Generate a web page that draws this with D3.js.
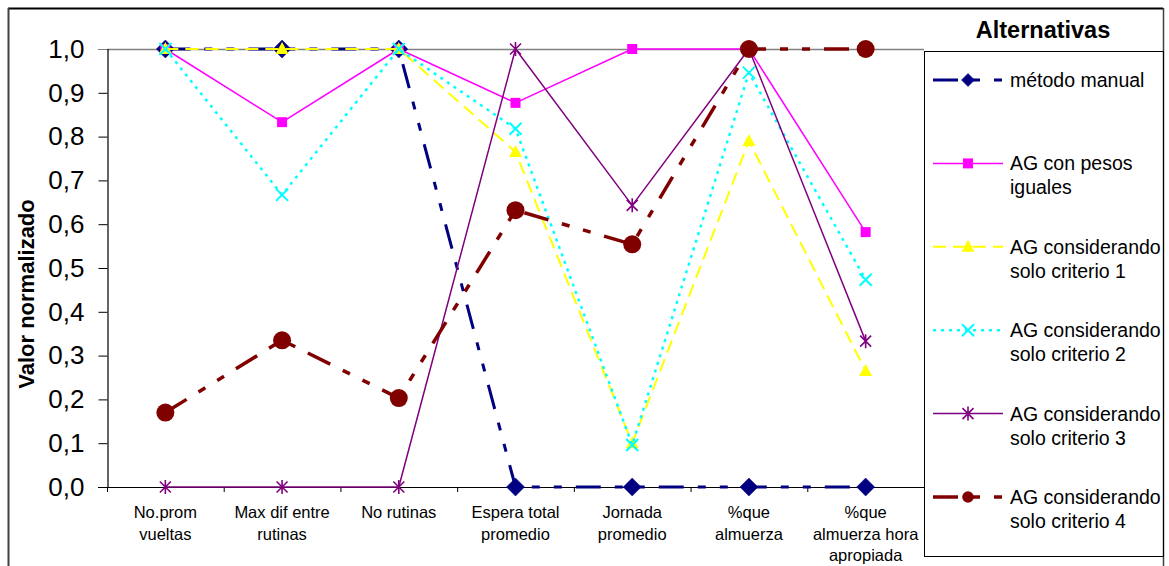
<!DOCTYPE html>
<html>
<head>
<meta charset="utf-8">
<script src="https://cdn.jsdelivr.net/npm/d3@7"></script>
<style>
  html, body { margin: 0; padding: 0; background: #fff; }
  svg { display: block; font-family: "Liberation Sans", Arial, sans-serif; }
</style>
</head>
<body>
<svg id="chart" width="1169" height="566"></svg>
<script>
// ---- Data ----
const categories = ["No.prom vueltas", "Max dif entre rutinas", "No rutinas", "Espera total promedio", "Jornada promedio", "%que almuerza", "%que almuerza hora apropiada"];
const categoryLabelLines = [["No.prom", "vueltas"], ["Max dif entre", "rutinas"], ["No rutinas"], ["Espera total", "promedio"], ["Jornada", "promedio"], ["%que", "almuerza"], ["%que", "almuerza hora", "apropiada"]];
const yTickValues = [0, 0.1, 0.2, 0.3, 0.4, 0.5, 0.6, 0.7, 0.8, 0.9, 1.0];

const seriesNames = ["método manual", "AG con pesos iguales", "AG considerando solo criterio 1", "AG considerando solo criterio 2", "AG considerando solo criterio 3", "AG considerando solo criterio 4"];
const legendLines = [["método manual"], ["AG con pesos", "iguales"], ["AG considerando", "solo criterio 1"], ["AG considerando", "solo criterio 2"], ["AG considerando", "solo criterio 3"], ["AG considerando", "solo criterio 4"]];

const metodoManual   = [1, 1, 1, 0, 0, 0, 0];
const agPesosIguales = [1, 0.833, 1, 0.877, 1, 1, 0.582];
const agCriterio1    = [1, 1, 1, 0.765, 0.1, 0.79, 0.265];
const agCriterio2    = [1, 0.667, 1, 0.818, 0.096, 0.946, 0.473];
const agCriterio3    = [0, 0, 0, 1, 0.643, 1, 0.333];
const agCriterio4    = [0.17, 0.335, 0.203, 0.632, 0.554, 1, 1];

const allSeries = [metodoManual, agPesosIguales, agCriterio1, agCriterio2, agCriterio3, agCriterio4];

// ---- Styles ----
const styles = [
  { color: "#000080", width: 3,   dash: "25,14,8,14,8,14", marker: "diamond" },
  { color: "#FF00FF", width: 1.5, dash: null,              marker: "square" },
  { color: "#FFFF00", width: 2,   dash: "13,7",            marker: "triangle" },
  { color: "#00FFFF", width: 2.5, dash: "3,5",             marker: "x" },
  { color: "#800080", width: 1.5, dash: null,              marker: "star" },
  { color: "#800000", width: 3.5, dash: "25,14,8,14,8,14", marker: "circle" }
];

const svg = d3.select("#chart");
const W = 1169, H = 566;
const plot = { left: 107, right: 924, top: 49, bottom: 487 };

const x = d3.scaleBand().domain(categories).range([plot.left, plot.right]).padding(0);
const y = d3.scaleLinear().domain([0, 1]).range([plot.bottom, plot.top]);
const cx = c => x(c) + x.bandwidth() / 2;

// outer chart border
svg.append("line").attr("x1", 8).attr("x2", 1163).attr("y1", 8.5).attr("y2", 8.5).attr("stroke", "#000").attr("stroke-width", 2);
svg.append("line").attr("x1", 8.5).attr("x2", 8.5).attr("y1", 8).attr("y2", H).attr("stroke", "#404040").attr("stroke-width", 2);
svg.append("line").attr("x1", 1163.5).attr("x2", 1163.5).attr("y1", 8).attr("y2", H).attr("stroke", "#404040").attr("stroke-width", 1.5);

// plot area border (top) in gray
svg.append("line").attr("x1", plot.left).attr("x2", plot.right).attr("y1", y(1) + 0.5).attr("y2", y(1) + 0.5).attr("stroke", "#808080").attr("stroke-width", 1.5);

// Y axis
const yAxis = d3.axisLeft(y).tickValues(yTickValues).tickSize(9).tickPadding(14)
  .tickFormat(d => d.toFixed(1).replace(".", ","));
const gy = svg.append("g").attr("transform", `translate(${plot.left + 0.5},0)`).call(yAxis);
gy.select(".domain").attr("stroke", "#000").attr("stroke-width", 1.2);
gy.selectAll(".tick line").attr("stroke", "#000");
gy.selectAll(".tick text").attr("font-size", 26).attr("fill", "#000").attr("font-family", "Liberation Sans, Arial, sans-serif");
gy.selectAll(".tick").filter(d => d === 1).select("line").attr("stroke", "#808080");

// X axis
const xAxisLine = svg.append("g");
xAxisLine.append("line").attr("x1", plot.left - 9).attr("x2", plot.right).attr("y1", y(0) + 0.5).attr("y2", y(0) + 0.5).attr("stroke", "#000").attr("stroke-width", 1.2);
const boundaries = categories.map(c => x(c)).concat([x(categories[categories.length - 1]) + x.bandwidth()]);
xAxisLine.selectAll("line.xt").data(boundaries).enter().append("line")
  .attr("class", "xt").attr("x1", d => d + 0.5).attr("x2", d => d + 0.5)
  .attr("y1", y(0)).attr("y2", y(0) + 5).attr("stroke", "#000").attr("stroke-width", 1);

categories.forEach((c, i) => {
  const t = svg.append("text").attr("text-anchor", "middle").attr("font-size", 16.5).attr("fill", "#000");
  categoryLabelLines[i].forEach((ln, j) => {
    t.append("tspan").attr("x", cx(c)).attr("y", 518 + j * 21.5).text(ln);
  });
});

// Y axis title
svg.append("text").attr("transform", `translate(34,${(plot.top + plot.bottom) / 2 + 26}) rotate(-90)`)
  .attr("text-anchor", "middle").attr("font-size", 22).attr("font-weight", "bold").attr("fill", "#000")
  .text("Valor normalizado");

// marker drawer
function drawMarker(g, type, color, px, py, small) {
  const m = g.append("path").attr("transform", `translate(${px},${py})`);
  if (type === "diamond") {
    const s = small ? 6.5 : 9;
    m.attr("d", `M0,${-s}L${s},0L0,${s}L${-s},0Z`).attr("fill", color).attr("stroke", color).attr("stroke-width", 0.5);
  } else if (type === "square") {
    m.attr("d", "M-5,-5H5V5H-5Z").attr("fill", color);
  } else if (type === "triangle") {
    m.attr("d", "M0,-7L6.5,5L-6.5,5Z").attr("fill", color);
  } else if (type === "x") {
    m.attr("d", "M-6,-6L6,6M-6,6L6,-6").attr("fill", "none").attr("stroke", color).attr("stroke-width", 2);
  } else if (type === "star") {
    m.attr("d", "M0,-7L0,7M-5.5,-5.5L5.5,5.5M-5.5,5.5L5.5,-5.5").attr("fill", "none").attr("stroke", color).attr("stroke-width", 1.6);
  } else if (type === "circle") {
    const r = small ? 5.8 : 9;
    m.attr("d", d3.symbol().type(d3.symbolCircle).size(Math.PI * r * r)()).attr("fill", color);
  }
}

// series
const line = d3.line().x((d, i) => cx(categories[i])).y(d => y(d));
allSeries.forEach((vals, si) => {
  const st = styles[si];
  const g = svg.append("g");
  g.append("path").datum(vals).attr("d", line).attr("fill", "none")
    .attr("stroke", st.color).attr("stroke-width", st.width)
    .attr("stroke-dasharray", st.dash).attr("stroke-linejoin", "round");
  vals.forEach((v, i) => drawMarker(g, st.marker, st.color, cx(categories[i]), y(v), false));
});

// Legend
svg.append("rect").attr("x", 924.5).attr("y", 51.5).attr("width", 239).attr("height", 505)
  .attr("fill", "none").attr("stroke", "#000").attr("stroke-width", 1);
svg.append("text").attr("x", 1043).attr("y", 38).attr("text-anchor", "middle")
  .attr("font-size", 23.5).attr("font-weight", "bold").attr("fill", "#000").text("Alternativas");

const legendY = d3.scaleLinear().domain([0, 5]).range([80, 497]);
seriesNames.forEach((name, si) => {
  const st = styles[si];
  const ly = legendY(si);
  const g = svg.append("g");
  g.append("line").attr("x1", 933).attr("x2", 1003).attr("y1", ly).attr("y2", ly)
    .attr("stroke", st.color).attr("stroke-width", st.width).attr("stroke-dasharray", st.dash);
  drawMarker(g, st.marker, st.color, 968, ly, true);
  const t = g.append("text").attr("font-size", 19.5).attr("fill", "#000");
  legendLines[si].forEach((ln, j) => {
    t.append("tspan").attr("x", 1010).attr("y", ly + 7 + j * 24).text(ln);
  });
});
</script>
</body>
</html>
